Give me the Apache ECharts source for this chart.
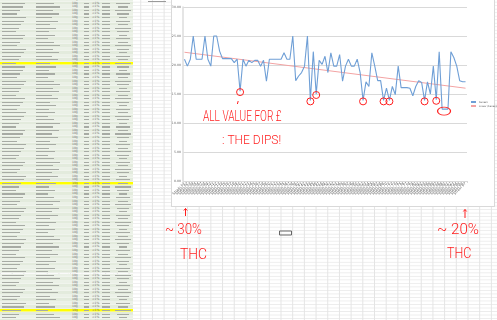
<!DOCTYPE html>
<html><head><meta charset="utf-8">
<script src="https://cdn.jsdelivr.net/npm/echarts@6/dist/echarts.min.js"></script>
<style>
html,body{margin:0;padding:0;width:497px;height:320px;overflow:hidden;background:#fff;}
#sheet{position:absolute;left:0;top:0;width:497px;height:320px;
 background-image:linear-gradient(to right,#e4e4e4 1px,transparent 1px),linear-gradient(to bottom,#ececec 1px,transparent 1px);
 background-size:11.7px 100%,100% 3.53px;background-position:0 0,0 1.69px;}
#tbl{position:absolute;left:0;top:0;width:133px;height:320px;}
.row{position:absolute;left:0;width:133px;height:3.53px;box-shadow:inset 0 -0.5px 0 #f6f8f4;}
.bar{position:absolute;top:1.2px;height:1.1px;background:#a7aba4;}
.t{position:absolute;top:0.2px;font:3px "DejaVu Sans",sans-serif;color:#707070;line-height:3px;white-space:nowrap;}
.vsep{position:absolute;top:0;width:0.6px;height:320px;background:#f4f7f2;}
#frame{position:absolute;left:171px;top:-1px;width:322px;height:206px;background:#fff;border:1px solid #d9d9d9;}
#chart{position:absolute;left:0;top:0;width:497px;height:320px;}
</style></head>
<body>
<div id="sheet"><div id="tbl"></div></div>
<div id="frame"></div>
<div id="chart"></div>
<script>
// ---- chart data ----
const categories = [
 'Strain 01','Strain 02','Strain 03','Strain 04','Strain 05','Strain 06','Strain 07','Strain 08','Strain 09','Strain 10',
 'Strain 11','Strain 12','Strain 13','Strain 14','Strain 15','Strain 16','Strain 17','Strain 18','Strain 19','Strain 20',
 'Strain 21','Strain 22','Strain 23','Strain 24','Strain 25','Strain 26','Strain 27','Strain 28','Strain 29','Strain 30',
 'Strain 31','Strain 32','Strain 33','Strain 34','Strain 35','Strain 36','Strain 37','Strain 38','Strain 39','Strain 40',
 'Strain 41','Strain 42','Strain 43','Strain 44','Strain 45','Strain 46','Strain 47','Strain 48','Strain 49','Strain 50',
 'Strain 51','Strain 52','Strain 53','Strain 54','Strain 55','Strain 56','Strain 57','Strain 58','Strain 59','Strain 60',
 'Strain 61','Strain 62','Strain 63','Strain 64','Strain 65','Strain 66','Strain 67','Strain 68','Strain 69','Strain 70',
 'Strain 71','Strain 72','Strain 73','Strain 74','Strain 75','Strain 76','Strain 77','Strain 78','Strain 79','Strain 80',
 'Strain 81','Strain 82','Strain 83','Strain 84','Strain 85','Strain 86','Strain 87','Strain 88','Strain 89','Strain 90',
 'Strain 91','Strain 92','Strain 93','Strain 94','Strain 95','Strain 96','Strain 97'
];
const series1 = [
 21.0,19.8,21.0,25.0,21.0,21.0,21.0,25.0,21.0,19.8,
 25.0,25.0,22.4,21.1,21.1,21.1,21.1,20.4,21.0,15.5,
 21.0,19.8,20.8,20.4,20.8,20.8,19.8,20.8,17.2,21.0,
 21.0,21.0,21.0,21.0,22.1,21.0,21.0,25.0,17.3,18.1,
 18.7,19.8,25.0,13.9,22.3,15.0,20.8,20.1,21.5,18.7,
 22.1,19.8,19.8,21.8,17.2,19.8,21.0,19.8,19.8,21.0,
 18.7,13.9,17.1,16.3,22.1,19.8,17.3,17.3,13.9,16.0,
 13.9,16.3,14.9,19.8,16.1,16.1,16.1,16.0,14.7,16.3,
 17.3,17.0,13.9,17.1,15.0,19.8,14.0,22.3,12.4,12.4,
 12.4,22.3,21.3,19.8,17.3,17.1,17.1
];
const trendStart = 22.2;   // linear trend value at first category
const trendEnd = 16.0;     // linear trend value at last category
const yTickValues = [0, 5, 10, 15, 20, 25, 30];
const yTickLabels = ['0.00', '5.00', '10.00', '15.00', '20.00', '25.00', '30.00'];
const dipIndices = [19, 43, 45, 61, 68, 70, 82, 86];
const lowestRunIndex = [89];
const seriesNames = ['Series1', 'Linear (Series1)'];

// ---- spreadsheet background ----
(function () {
  const tbl = document.getElementById('tbl');
  const RH = 3.53, OFF = -1.84;
  const yellowRows = [18, 52, 88];
  const seps = [35, 68, 82, 90, 100, 113];
  seps.forEach(x => { const s = document.createElement('div'); s.className = 'vsep'; s.style.left = x + 'px'; tbl.appendChild(s); });
  for (let r = 0; r < 92; r++) {
    const row = document.createElement('div');
    row.className = 'row';
    row.style.top = (OFF + r * RH) + 'px';
    row.style.background = yellowRows.includes(r) ? '#ffff00' : (r % 2 ? '#e3ebdd' : '#ebf1e7');
    const w1 = 14 + ((r * 7) % 9) * 1.3, w2 = 12 + ((r * 5) % 11) * 1.2, w7 = 8 + ((r * 3) % 5) * 2.2;
    row.innerHTML =
      '<div class="bar" style="left:2px;width:' + w1 + 'px"></div>' +
      '<div class="bar" style="left:36px;width:' + w2 + 'px"></div>' +
      '<div class="t" style="left:72px">10g</div>' +
      '<div class="bar" style="left:84px;width:4.5px"></div>' +
      '<div class="t" style="left:92px">&lt;1%</div>' +
      '<div class="bar" style="left:102px;width:8px"></div>' +
      '<div class="bar" style="left:' + (123 - w7 / 2) + 'px;width:' + w7 + 'px"></div>';
    tbl.appendChild(row);
  }
  const hdr = document.createElement('div');
  hdr.style.cssText = 'position:absolute;left:148px;top:1px;width:18px;height:1.4px;background:#9a9a9a;';
  document.getElementById('sheet').appendChild(hdr);
})();

// ---- chart ----
const n = categories.length;
const trendData = categories.map((c, i) => i === 0 ? trendStart : (i === n - 1 ? trendEnd : null));
const red = '#ff1f1f';
const hand = (txt, x, y, size, sx) => ({
  type: 'text', x: x, y: y, scaleX: sx, z: 100,
  style: { text: txt, fill: red, fontSize: size, fontFamily: 'Roboto', fontWeight: 300, verticalAlign: 'middle' }
});
const line = (pts) => ({ type: 'polyline', z: 100, shape: { points: pts }, style: { stroke: red, lineWidth: 1, fill: null } });

const chart = echarts.init(document.getElementById('chart'), null, { renderer: 'canvas' });
chart.setOption({
  animation: false,
  grid: { left: 183, right: 30, top: 7, bottom: 139, containLabel: false },
  legend: {
    data: seriesNames, orient: 'vertical', left: 470, top: 101, padding: 0, itemWidth: 5, itemHeight: 2, itemGap: 2,
    textStyle: { fontSize: 2.4, color: '#595959', fontFamily: 'DejaVu Sans', padding: [0, 0, 0, -2] }
  },
  xAxis: {
    type: 'category', data: categories, boundaryGap: true,
    axisLine: { show: true, lineStyle: { color: '#d9d9d9', width: 1 } },
    axisTick: { show: true, length: 2, interval: 0, lineStyle: { color: '#d9d9d9' } },
    axisLabel: { interval: 0, rotate: 45, fontSize: 3.5, color: '#6a6a6a', margin: 2, fontFamily: 'DejaVu Sans' },
    splitLine: { show: false }
  },
  yAxis: {
    type: 'value', min: 0, max: 30, interval: 5,
    axisLine: { show: true, lineStyle: { color: '#dcdcdc', width: 1.5 } },
    axisTick: { show: false },
    axisLabel: { fontSize: 3.2, color: '#6a6a6a', margin: 2, fontFamily: 'DejaVu Sans',
      formatter: v => yTickLabels[yTickValues.indexOf(v)] },
    splitLine: { lineStyle: { color: '#d9d9d9', width: 1 } }
  },
  series: [
    {
      name: seriesNames[0], type: 'line', data: series1, symbol: 'none',
      lineStyle: { color: '#6f9fd6', width: 1.1 }, itemStyle: { color: '#6f9fd6' }, z: 3,
      markPoint: {
        silent: true, symbol: 'circle', symbolSize: 7, symbolOffset: [0, 1],
        label: { show: false },
        itemStyle: { color: 'rgba(0,0,0,0)', borderColor: red, borderWidth: 1 },
        data: dipIndices.map(i => ({ coord: [i, series1[i]] }))
          .concat(lowestRunIndex.map(i => ({ coord: [i, series1[i]], symbolSize: [13, 8], symbolOffset: [-1, 2] })))
      }
    },
    {
      name: seriesNames[1], type: 'line', data: trendData, connectNulls: true, symbol: 'none',
      lineStyle: { color: '#f3a3a3', width: 1 }, itemStyle: { color: '#f3a3a3' }, z: 2
    }
  ],
  graphic: [
    hand('ALL VALUE FOR £', 203, 117, 14, 0.72),
    hand(': THE DIPS!', 222, 141, 12, 1.0),
    hand('~ 30%', 165, 230, 14, 0.95),
    hand('THC', 180, 255, 15, 0.92),
    hand('~ 20%', 437, 230, 14, 1.08),
    hand('THC', 447, 254, 14.5, 0.86),
    line([[185.5, 216], [185.5, 208.5]]),
    line([[183.8, 210.5], [185.5, 208.5], [187.2, 210.5]]),
    line([[465, 218], [465, 209.5]]),
    line([[463.3, 211.5], [465, 209.5], [466.7, 211.5]]),
    line([[238.2, 101], [237.4, 104]]),
    { type: 'rect', z: 100, shape: { x: 279.5, y: 231, width: 12, height: 4 }, style: { stroke: '#666', lineWidth: 1, fill: null } }
  ]
});
</script>
</body></html>
